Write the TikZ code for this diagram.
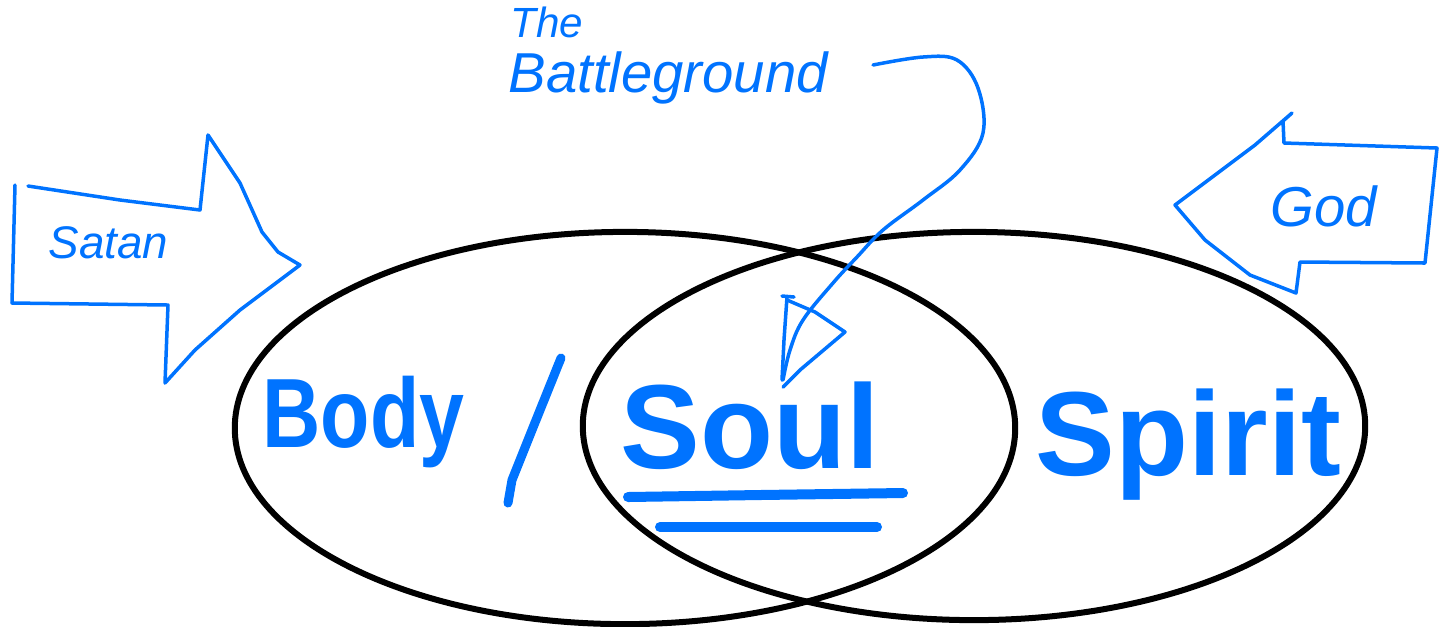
\documentclass[tikz,border=0pt]{standalone}
\usepackage{fontspec}
\setmainfont{Liberation Sans}
\usetikzlibrary{shapes.geometric}
\definecolor{pen}{RGB}{0,115,255}
\tikzset{
  ring/.style={draw=black, line width=0.06cm, ellipse, inner sep=0pt},
  thinpen/.style={draw=pen, line width=0.035cm, line join=round, line cap=round},
  thickpen/.style={draw=pen, line width=0.10cm, line cap=round},
  word/.style={text=pen, inner sep=0pt, anchor=base west},
}
\begin{document}
\begin{tikzpicture}[x=0.01cm, y=-0.01cm]
\useasboundingbox (0,0) rectangle (1442,626);
% ellipses
\node[ring, minimum width=7.80cm, minimum height=3.92cm] (left) at (625,428) {};
\node[ring, minimum width=7.82cm, minimum height=3.88cm] (right) at (974,426) {};
% Satan arrow
\draw[thinpen] (28,186) -- (120,200) -- (200,210) -- (208,135) -- (240,183) -- (262,232) -- (278,252) -- (300,265)
  -- (240,310) -- (195,350) -- (165,383) -- (168,305) -- (12,303) -- (15,185);
\node[word, font=\itshape\fontsize{13}{15}\selectfont] (satan) at (48,258) {Satan};
% God arrow
\draw[thinpen] (1292,113) -- (1283,121) -- (1284,143) -- (1437,148) -- (1425,263) -- (1300,262) -- (1296,293)
  -- (1250,275) -- (1205,240) -- (1175,205) -- (1215,175) -- (1255,145) -- (1292,113);
\node[word, font=\itshape\fontsize{16}{18}\selectfont] (god) at (1270,226) {God};
% The Battleground
\node[word, font=\itshape\fontsize{12}{14}\selectfont] (the) at (510,37) {The};
\node[word, font=\itshape\fontsize{16}{18}\selectfont] (bg) at (508,92) {Battleground};
\coordinate (bgstart) at (873,65);
\coordinate (tip) at (783,380);
\draw[thinpen] plot[smooth, tension=0.6] coordinates {(bgstart) (923,57) (957,60) (978,88) (983,133) (960,170)
  (923,200) (883,230) (857,257) (833,283) (803,320) (790,350) (tip)};
\draw[thinpen] (782,296) -- (794,297);
\draw[thinpen] (787,297) -- (784,340) -- (782,380);
\draw[thinpen] (787,300) -- (815,312) -- (845,332) -- (800,370) -- (783,387);
% Body
\node[word, xscale=0.82, font=\bfseries\fontsize{28}{30}\selectfont] (body) at (262,447) {Body};
\draw[thickpen, line width=0.09cm] (561,358) -- (530,435) -- (512,480) -- (508,503);
% Soul
\node[word, font=\bfseries\fontsize{34}{36}\selectfont] (soul) at (620,468) {Soul};
\draw[thickpen] (628,497) -- (760,495) -- (903,493);
\draw[thickpen] (660,527) -- (877,527);
% Spirit
\node[word, font=\bfseries\fontsize{34}{36}\selectfont] (spirit) at (1035,475) {Spirit};
\end{tikzpicture}
\end{document}
